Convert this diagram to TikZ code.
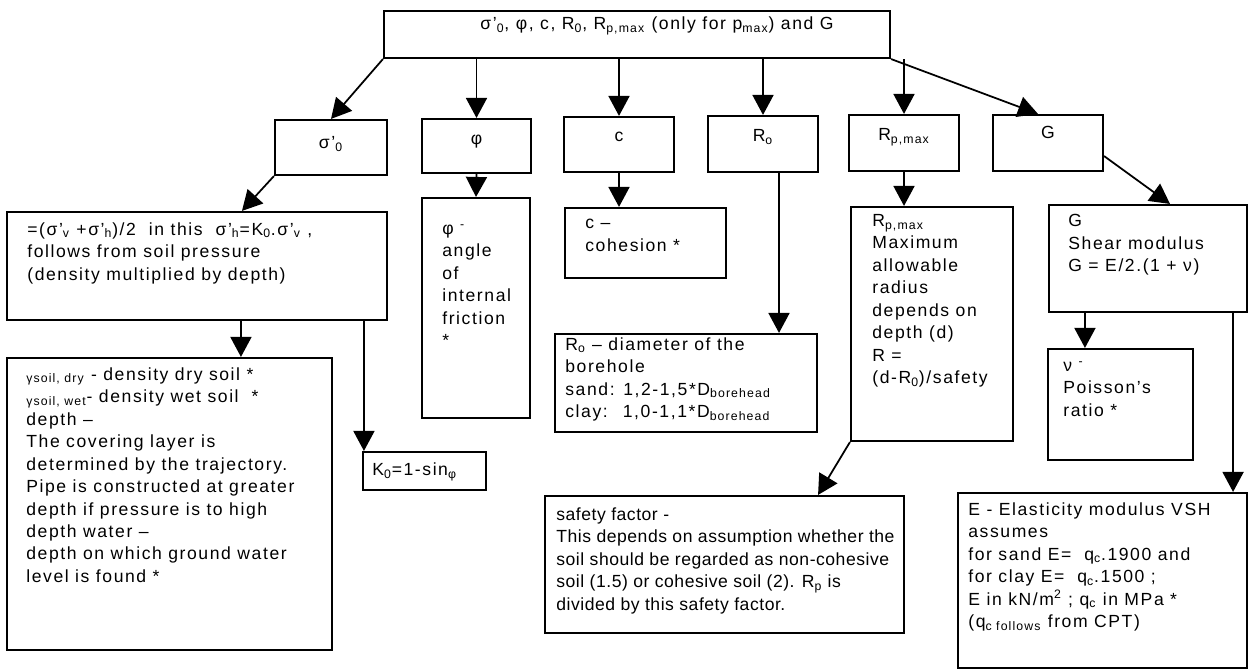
\documentclass[tikz,border=0pt]{standalone}
\usepackage{fontspec}
\setmainfont{Liberation Sans}[LetterSpace=9]
\newfontfamily\tightsans{Liberation Sans}[LetterSpace=3]
\usetikzlibrary{arrows.meta,calc,fit}

\tikzset{
  box/.style={draw, line width=1.2pt, inner sep=0pt},
  txt/.style={align=left, inner sep=0pt, font=\fontsize{10}{12.8}\selectfont},
  para/.style={txt, anchor=north west, execute at begin node=\strut},
  arr/.style={-{Triangle[length=4mm,width=4.2mm]}, line width=1pt},
}

\begin{document}
\begin{tikzpicture}[x=0.02cm, y=-0.02cm]
    \useasboundingbox (0,0) rectangle (1250,671);

    % top box
    \node[box, fit={(384,11) (890,58)}] (top) {};
    \node[txt, anchor=base] (toptxt) at ($(top.north)+(20,20)$) {σ’\textsubscript{0}, φ, c, R\textsubscript{0}, R\textsubscript{p,max} (only for p\textsubscript{max}) and G};

    % second row
    \node[box, fit={(275,120) (387,175)}] (sig) {};
    \node[txt, anchor=base] (sigtxt) at ($(sig.north)+(0,30)$) {σ’\textsubscript{0}};
    \node[box, fit={(422,119) (531,173)}] (phi) {};
    \node[txt, anchor=base] (phitxt) at ($(phi.north)+(0,27)$) {φ};
    \node[box, fit={(564,117) (674,172)}] (coh) {};
    \node[txt, anchor=base] (cohtxt) at ($(coh.north)+(0,26)$) {c};
    \node[box, fit={(708,116) (818,172)}] (rnul) {};
    \node[txt, anchor=base] (rnultxt) at ($(rnul.north)+(0,27)$) {R\textsubscript{o}};
    \node[box, fit={(849,115) (959,171)}] (rpmax) {};
    \node[txt, anchor=base] (rpmaxtxt) at ($(rpmax.north)+(0,27)$) {R\textsubscript{p,max}};
    \node[box, fit={(993,115) (1103,171)}] (gmod) {};
    \node[txt, anchor=base] (gmodtxt) at ($(gmod.north)+(0,25)$) {G};

    % third row
    \node[box, fit={(7,212) (387,320)}] (sigdesc) {};
    \node[para] (sigdesctxt) at (27,222)
      {=(σ’\textsubscript{v} +σ’\textsubscript{h})/2 \ in this \ σ’\textsubscript{h}=K\textsubscript{0}.σ’\textsubscript{v} ,\\
       follows from soil pressure\\
       (density multiplied by depth)};
    \node[box, fit={(422,198) (530,418)}] (phidesc) {};
    \node[para] (phidesctxt) at (442,224)
      {φ \textsuperscript{-}\\ angle\\ of\\ internal\\ friction\\ *};
    \node[box, fit={(565,208) (726,278)}] (cohdesc) {};
    \node[para] (cohdesctxt) at (585,219) {c –\\ cohesion *};
    \node[box, fit={(555,334) (817,432)}] (rnuldesc) {};
    \node[para] (rnuldesctxt) at (565,337)
      {R\textsubscript{o} – diameter of the\\
       borehole\\
       sand: 1,2-1,5*D\textsubscript{borehead}\\
       clay: \ 1,0-1,1*D\textsubscript{borehead}};
    \node[box, fit={(851,207) (1013,441)}] (rpdesc) {};
    \node[para] (rpdesctxt) at (872,214)
      {R\textsubscript{p,max}\\ Maximum\\ allowable\\ radius\\ depends on\\ depth (d)\\ R =\\ (d-R\textsubscript{0})/safety};
    \node[box, fit={(1049,205) (1247,312)}] (gdesc) {};
    \node[para] (gdesctxt) at (1068,214)
      {G\\ Shear modulus\\ G = E/2.(1 + ν)};

    % bottom boxes
    \node[box, fit={(7,358) (332,650)}] (gamma) {};
    \node[para] (gammatxt) at (26,367)
      {\textsubscript{γsoil, dry} - density dry soil *\\
       \textsubscript{γsoil, wet}- density wet soil \ *\\
       depth –\\
       The covering layer is\\
       determined by the trajectory.\\
       Pipe is constructed at greater\\
       depth if pressure is to high\\
       depth water –\\
       depth on which ground water\\
       level is found *};
    \node[box, fit={(363,452) (486,490)}] (kzero) {};
    \node[txt, anchor=base west] (kzerotxt) at (372,476) {K\textsubscript{0}=1-sin\textsubscript{φ}};
    \node[box, fit={(545,496) (904,633)}] (safety) {};
    \node[para, font=\fontsize{10}{12.8}\tightsans] (safetytxt) at (556,507)
      {safety factor -\\
       This depends on assumption whether the\\
       soil should be regarded as non-cohesive\\
       soil (1.5) or cohesive soil (2). R\textsubscript{p} is\\
       divided by this safety factor.};
    \node[box, fit={(1048,349) (1193,460)}] (nu) {};
    \node[para] (nutxt) at (1063,361) {ν \textsuperscript{-}\\ Poisson’s\\ ratio *};
    \node[box, fit={(958,493) (1247,668)}] (emod) {};
    \node[para] (emodtxt) at (968,502)
      {E - Elasticity modulus VSH\\
       assumes\\
       for sand E= \ q\textsubscript{c}.1900 and\\
       for clay E= \ q\textsubscript{c}.1500 ;\\
       E in kN/m\textsuperscript{2} ; q\textsubscript{c} in MPa *\\
       (q\textsubscript{c follows} from CPT)};

    % arrows
    \draw[arr] (top.south west) -- (sig.north);
    \draw[arr] (top.south -| phi.north) -- (phi.north);
    \draw[arr] (top.south -| coh.north) -- (coh.north);
    \draw[arr] (top.south -| rnul.north) -- (rnul.north);
    \draw[arr] (top.south -| rpmax.north) -- (rpmax.north);
    \draw[arr] (top.south east) -- ($(gmod.north)+(-10,0)$);

    \draw[arr] (sig.south west) -- ($(sigdesc.north west)+(236,0)$);
    \draw[arr] (phi.south) -- (phidesc.north);
    \draw[arr] (coh.south) -- (coh.south |- cohdesc.north);
    \coordinate (rnulfoot) at ($(rnul.south)+(16,0)$);
    \draw[arr] (rnulfoot) -- (rnulfoot |- rnuldesc.north);
    \draw[arr] (rpmax.south) -- (rpmax.south |- rpdesc.north);
    \draw[arr] ($(gmod.south east)+(0,-16)$) -- ($(gdesc.north)+(22,0)$);

    \coordinate (gamfoot) at ($(sigdesc.south west)+(235,0)$);
    \draw[arr] (gamfoot) -- (gamfoot |- gamma.north);
    \coordinate (kfoot) at ($(sigdesc.south west)+(358,0)$);
    \draw[arr] (kfoot) -- (kfoot |- kzero.north);
    \draw[arr] (rpdesc.south west) -- ($(safety.north east)+(-87,0)$);
    \coordinate (nufoot) at ($(gdesc.south west)+(37,0)$);
    \draw[arr] (nufoot) -- (nufoot |- nu.north);
    \coordinate (efoot) at ($(gdesc.south east)+(-15,0)$);
    \draw[arr] (efoot) -- (efoot |- emod.north);
\end{tikzpicture}
\end{document}
